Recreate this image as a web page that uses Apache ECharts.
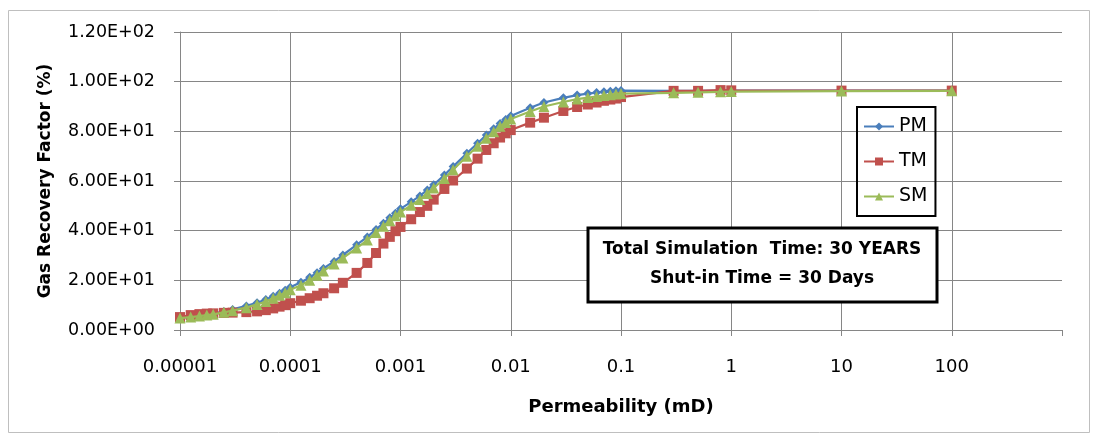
<!DOCTYPE html>
<html><head><meta charset="utf-8">
<script src="https://cdn.jsdelivr.net/npm/echarts@6/dist/echarts.min.js"></script>
<style>html,body{margin:0;padding:0;background:#fff}#c{width:1097px;height:436px}</style>
</head><body><div id="c"></div>
<script>
var permeability = [
  1e-5,1.25e-5,1.5e-5,1.75e-5,2e-5,2.5e-5,3e-5,4e-5,5e-5,6e-5,7e-5,8e-5,9e-5,
  1e-4,1.25e-4,1.5e-4,1.75e-4,2e-4,2.5e-4,3e-4,4e-4,5e-4,6e-4,7e-4,8e-4,9e-4,
  1e-3,1.25e-3,1.5e-3,1.75e-3,2e-3,2.5e-3,3e-3,4e-3,5e-3,6e-3,7e-3,8e-3,9e-3,
  1e-2,1.5e-2,2e-2,3e-2,4e-2,5e-2,6e-2,7e-2,8e-2,9e-2,
  0.1,0.3,0.5,0.8,1,10,100];
var pmValues = [
  4.9,5.4,5.8,6.2,6.6,7.5,8.3,9.7,11.0,12.3,13.6,14.8,16.0,
  17.2,19.2,21.2,23.1,24.8,27.6,30.2,34.3,37.5,40.5,43.0,45.2,47.0,
  48.8,51.6,54.0,56.4,58.5,62.4,65.8,71.2,75.2,78.5,81.0,83.2,84.8,
  86.2,89.5,91.6,93.5,94.6,95.2,95.6,95.9,96.1,96.3,
  96.4,96.3,96.3,96.4,96.4,96.4,96.4];
var tmValues = [
  5.2,6.0,6.4,6.6,6.7,6.9,7.0,7.2,7.5,8.0,8.7,9.4,10.0,
  10.8,11.8,12.8,13.8,14.8,16.8,19.0,23.0,27.0,31.0,34.8,37.5,39.8,
  41.5,44.6,47.5,50.0,52.5,56.8,60.2,65.0,69.0,72.5,75.2,77.5,79.2,
  80.5,83.5,85.5,88.2,89.8,90.8,91.6,92.3,92.8,93.2,
  93.8,96.3,96.3,96.6,96.5,96.4,96.4];
var smValues = [
  4.8,5.2,5.6,6.0,6.3,7.1,7.8,9.0,10.3,11.5,12.8,14.0,15.0,
  16.2,18.0,20.0,22.0,23.8,26.6,29.0,33.0,36.2,39.3,41.8,44.0,46.0,
  47.5,50.2,52.6,55.0,57.2,61.0,64.5,70.0,74.0,77.2,79.8,82.0,83.6,
  85.0,88.0,90.0,91.8,93.0,93.6,94.0,94.4,94.7,95.0,
  95.2,95.5,95.7,95.9,96.0,96.2,96.3];
var xTickLabels = ['0.00001','0.0001','0.001','0.01','0.1','1','10','100'];
var seriesNames = ['PM','TM','SM'];
var noteLines = ['Total Simulation  Time: 30 YEARS','Shut-in Time = 30 Days'];
var xTitle = 'Permeability (mD)';
var yTitle = 'Gas Recovery Factor (%)';

function pairs(xs, ys){ return xs.map(function(x,i){return [x, ys[i]];}); }
function sci(v){
  if (v === 0) return '0.00E+00';
  var e = Math.floor(Math.log10(v)+1e-9);
  var m = v/Math.pow(10,e);
  return m.toFixed(2)+'E'+(e<0?'-':'+')+(Math.abs(e)<10?'0':'')+Math.abs(e);
}
function xLabel(v){
  var e = Math.round(Math.log10(v));
  var idx = e + 5;
  return (idx>=0 && idx<xTickLabels.length) ? xTickLabels[idx] : '';
}
var FONT = 'DejaVu Sans';
var chart = echarts.init(document.getElementById('c'), null, {renderer:'canvas'});
var colors = ['#4a7ebb','#c0504d','#9bbb59'];
var symbols = ['diamond','rect','triangle'];
var sizes = [9,10,11];
var data = [pmValues, tmValues, smValues];
chart.setOption({
  animation:false,
  color: colors,
  textStyle:{fontFamily:FONT},
  grid:{left:180, right:35, top:32, bottom:106},
  legend:{
    orient:'vertical', left:857, top:107, width:78,
    data: seriesNames,
    itemWidth:30, itemHeight:10, itemGap:16,
    padding:[10,8,10,6],
    borderColor:'#000', borderWidth:2,
    textStyle:{fontFamily:FONT, fontSize:19, color:'#000'}
  },
  xAxis:{
    type:'log', logBase:10, min:1e-5, max:1000,
    name:xTitle, nameLocation:'middle', nameGap:68,
    nameTextStyle:{fontFamily:FONT, fontSize:18, fontWeight:'bold', color:'#000'},
    axisLine:{show:true, lineStyle:{color:'#868686', width:1}},
    axisTick:{show:true, length:6, lineStyle:{color:'#868686'}},
    minorTick:{show:false},
    axisLabel:{formatter:xLabel, fontSize:18, color:'#000', margin:28},
    splitLine:{show:true, showMaxLine:false, lineStyle:{color:'#868686', width:1}}
  },
  yAxis:{
    type:'value', min:0, max:120, interval:20,
    name:yTitle, nameLocation:'middle', nameGap:126,
    nameTextStyle:{fontFamily:FONT, fontSize:17, fontWeight:'bold', color:'#000'},
    axisLine:{show:true, lineStyle:{color:'#868686', width:1}},
    axisTick:{show:true, length:6, lineStyle:{color:'#868686'}},
    axisLabel:{formatter:sci, fontSize:17.5, color:'#000', margin:25},
    splitLine:{show:true, lineStyle:{color:'#868686', width:1}}
  },
  series: seriesNames.map(function(n,i){
    return {
      name:n, type:'line', data:pairs(permeability, data[i]),
      symbol:symbols[i], symbolSize:sizes[i], showSymbol:true,
      lineStyle:{width:2.2, color:colors[i]},
      itemStyle:{color:colors[i]},
      z:2+i
    };
  }),
  graphic:[
    {type:'rect', shape:{x:8.5,y:10.5,width:1081,height:422}, style:{fill:null, stroke:'#bfbfbf', lineWidth:1}, silent:true, z:-10},
    {type:'rect', shape:{x:588,y:228,width:349,height:74}, style:{fill:'#fff', stroke:'#000', lineWidth:3}, z:50},
    {type:'text', x:762, y:250, style:{text:noteLines[0], fill:'#000', font:'bold 17px "DejaVu Sans"', textAlign:'center', textVerticalAlign:'middle'}, z:51},
    {type:'text', x:762, y:279, style:{text:noteLines[1], fill:'#000', font:'bold 17px "DejaVu Sans"', textAlign:'center', textVerticalAlign:'middle'}, z:51}
  ]
});
</script></body></html>
